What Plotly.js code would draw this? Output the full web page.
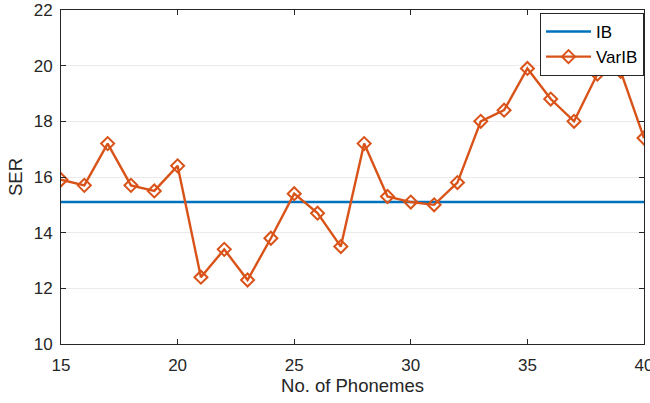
<!DOCTYPE html>
<html><head><meta charset="utf-8">
<script src="https://cdn.plot.ly/plotly-3.0.1.min.js"></script>
<style>body{margin:0;background:#fff}</style>
</head><body><div id="chart" style="width:650px;height:403px"></div>
<script>
const phonemes = [15,16,17,18,19,20,21,22,23,24,25,26,27,28,29,30,31,32,33,34,35,36,37,38,39,40];
const ibSER = [15.1,15.1,15.1,15.1,15.1,15.1,15.1,15.1,15.1,15.1,15.1,15.1,15.1,15.1,15.1,15.1,15.1,15.1,15.1,15.1,15.1,15.1,15.1,15.1,15.1,15.1];
const varibSER = [15.9,15.7,17.2,15.7,15.5,16.4,12.4,13.4,12.3,13.8,15.4,14.7,13.5,17.2,15.3,15.1,15.0,15.8,18.0,18.4,19.9,18.8,18.0,19.7,19.8,17.4];
const xTicks = [15,20,25,30,35,40];
const yTicks = [10,12,14,16,18,20,22];

const font = 'Liberation Sans, Arial, Helvetica, sans-serif';
const traces = [
  {x: phonemes, y: ibSER, name: 'IB', mode: 'lines', line: {color: '#0072BD', width: 2.4}},
  {x: phonemes, y: varibSER, name: 'VarIB', mode: 'lines+markers',
   line: {color: '#D95319', width: 2.4},
   marker: {symbol: 'diamond-open', size: 10, color: '#D95319', line: {width: 2, color: '#D95319'}}}
];
const axisCommon = {
  showline: true, linecolor: '#262626', linewidth: 1, mirror: 'allticks',
  ticks: 'inside', ticklen: 5, tickwidth: 1, tickcolor: '#262626',
  gridcolor: '#EBEBEB', gridwidth: 1, zeroline: false, ticklabeloverflow: 'allow',
  tickfont: {family: font, size: 17, color: '#262626'}
};
const layout = {
  width: 650, height: 403,
  margin: {l: 61, r: 6, t: 10, b: 59},
  paper_bgcolor: '#fff', plot_bgcolor: '#fff',
  font: {family: font, color: '#262626'},
  xaxis: Object.assign({}, axisCommon, {
    showgrid: false,
    range: [15, 40], tickvals: xTicks, ticktext: xTicks.map(String), ticklabelstandoff: 6,
    title: {text: 'No. of Phonemes', font: {family: font, size: 18.5, color: '#262626'}, standoff: 4}
  }),
  yaxis: Object.assign({}, axisCommon, {
    showgrid: true,
    range: [10, 22], tickvals: yTicks, ticktext: yTicks.map(String), ticklabelstandoff: 4,
    title: {text: 'SER', font: {family: font, size: 18.5, color: '#262626'}, standoff: 6}
  }),
  legend: {x: 1, xanchor: 'right', y: 0.991, yanchor: 'top', bgcolor: '#fff',
    bordercolor: '#262626', borderwidth: 1, font: {family: font, size: 17, color: '#000'},
    tracegroupgap: 0, itemwidth: 45},
  showlegend: true
};
Plotly.newPlot('chart', traces, layout, {displayModeBar: false, staticPlot: true});
</script></body></html>
